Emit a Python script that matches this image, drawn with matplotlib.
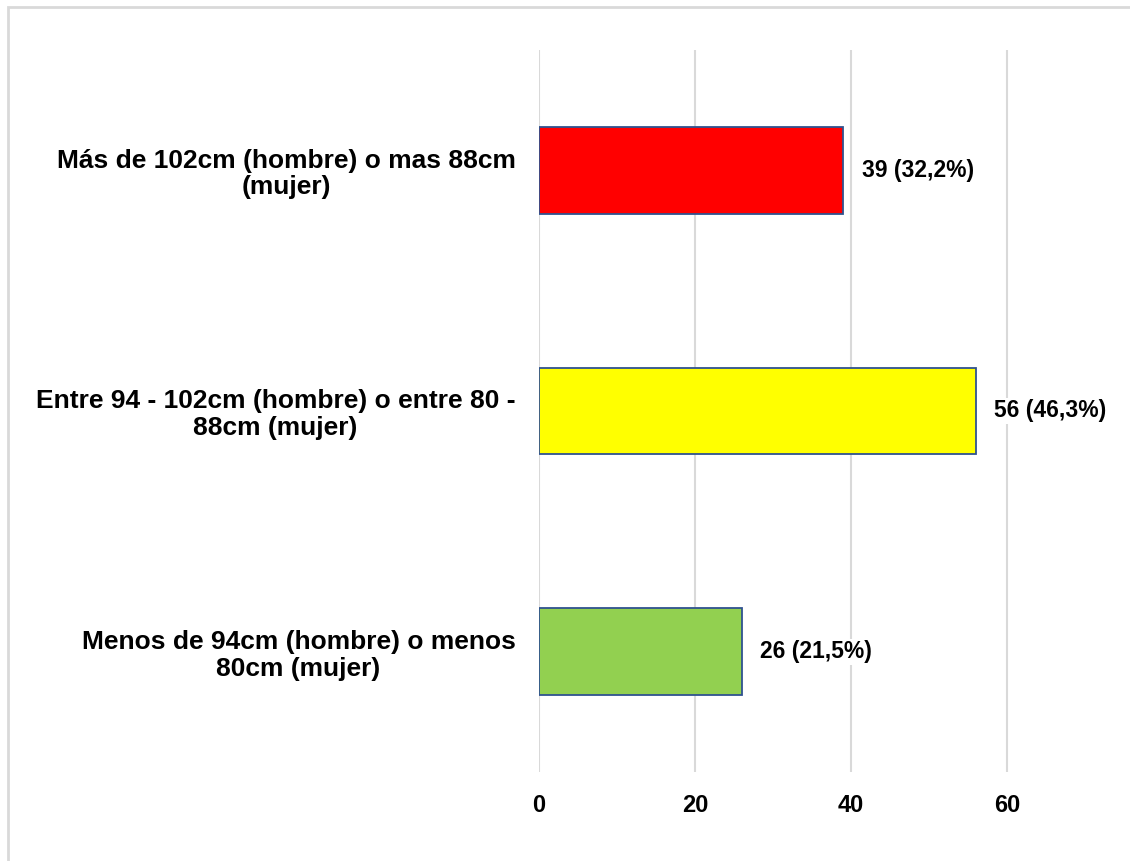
import matplotlib.pyplot as plt
from matplotlib.patches import Rectangle

plt.rcParams['font.family'] = ['Liberation Sans', 'DejaVu Sans']

# data (bottom to top)
categories = [
    "Menos de 94cm (hombre) o menos\n80cm (mujer)",
    "Entre 94 - 102cm (hombre) o entre 80 -\n88cm (mujer)",
    "Más de 102cm (hombre) o mas 88cm\n(mujer)",
]
counts = [26, 56, 39]
value_labels = ["26 (21,5%)", "56 (46,3%)", "39 (32,2%)"]
bar_colors = ["#92D050", "#FFFF00", "#FF0000"]
x_ticks = [0, 20, 40, 60]

fig = plt.figure(figsize=(11.3, 8.61), dpi=100)
# light frame around the chart area (right/bottom edges cropped off)
fig.patches.append(Rectangle((0.007, -0.05), 1.1, 1.042, transform=fig.transFigure,
                             fill=False, edgecolor="#D9D9D9", linewidth=2))

ax = fig.add_axes([0.477, 0.1034, 0.483, 0.8386])
ypos = range(len(categories))
ax.barh(ypos, counts, height=0.36, color=bar_colors, edgecolor="#2F528F",
        linewidth=1.3, zorder=3)

for y, v, lab in zip(ypos, counts, value_labels):
    ax.text(v + 2.4, y, lab, va="center", ha="left", fontsize=16.5,
            fontweight="bold", zorder=4,
            bbox=dict(facecolor="white", edgecolor="none", pad=1))

ax.set_xlim(0, 70)
ax.set_ylim(-0.5, 2.5)
ax.set_xticks(x_ticks)
ax.set_xticklabels([str(t) for t in x_ticks], fontsize=17, fontweight="bold")
ax.set_yticks(list(ypos))
ax.set_yticklabels(categories, fontsize=19, fontweight="bold",
                   multialignment="center", linespacing=1.14)
ax.tick_params(axis="both", length=0)
ax.tick_params(axis="x", pad=16)
ax.tick_params(axis="y", pad=17)
ax.grid(axis="x", color="#D9D9D9", linewidth=1.5, zorder=0)
for s in ax.spines.values():
    s.set_visible(False)

fig.savefig("out.png", dpi=100)
